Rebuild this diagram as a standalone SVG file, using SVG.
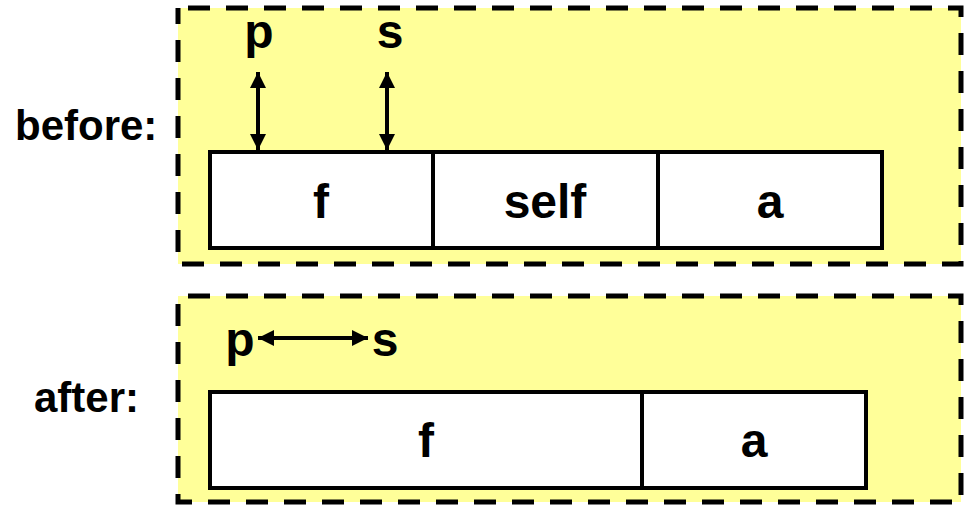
<svg xmlns="http://www.w3.org/2000/svg" width="965" height="505" viewBox="0 0 965 505">
<style>
.frame{fill:#ffff99;stroke:#000;stroke-width:5;stroke-dasharray:22 16}
.cell{fill:#fff;stroke:#000;stroke-width:4}
.lbl{font-family:"Liberation Sans",Arial,sans-serif;font-weight:bold;fill:#000}
.big{font-size:48px;text-anchor:middle}
.side{font-size:42px}
.conn{stroke:#000;stroke-width:4;fill:none;marker-start:url(#ah);marker-end:url(#ah)}
</style>
<defs>
<marker id="ah" markerUnits="userSpaceOnUse" markerWidth="18" markerHeight="18" viewBox="0 0 18 18" refX="16" refY="9" orient="auto-start-reverse">
<path d="M0,1 L16,9 L0,17 Z" fill="#000"/>
</marker>
</defs>
<g id="before-frame">
<rect class="frame" x="178" y="8" width="783" height="256" stroke-dashoffset="28"/>
<text class="lbl side" x="15" y="140">before:</text>
</g>
<g id="after-frame">
<rect class="frame" x="178" y="296" width="783" height="206" stroke-dashoffset="28"/>
<text class="lbl side" x="34" y="412">after:</text>
</g>
<g id="before-f">
<rect class="cell" x="210" y="152" width="223" height="96"/>
<text class="lbl big" x="321" y="218">f</text>
</g>
<g id="before-self">
<rect class="cell" x="433" y="152" width="225" height="96"/>
<text class="lbl big" x="545" y="218">self</text>
</g>
<g id="before-a">
<rect class="cell" x="658" y="152" width="224" height="96"/>
<text class="lbl big" x="770" y="218">a</text>
</g>
<g id="after-f">
<rect class="cell" x="210" y="392" width="432" height="96"/>
<text class="lbl big" x="426" y="457">f</text>
</g>
<g id="after-a">
<rect class="cell" x="642" y="392" width="224" height="96"/>
<text class="lbl big" x="754" y="457">a</text>
</g>
<g id="pointer-p-before"><text class="lbl big" x="259" y="48">p</text></g>
<g id="pointer-s-before"><text class="lbl big" x="390" y="48">s</text></g>
<g id="pointer-p-after"><text class="lbl big" x="240" y="356">p</text></g>
<g id="pointer-s-after"><text class="lbl big" x="385" y="356">s</text></g>
<g id="connectors">
<line class="conn" x1="258" y1="72" x2="258" y2="150"/>
<line class="conn" x1="387" y1="72" x2="387" y2="150"/>
<line class="conn" x1="258" y1="338" x2="368" y2="338"/>
</g>
</svg>
